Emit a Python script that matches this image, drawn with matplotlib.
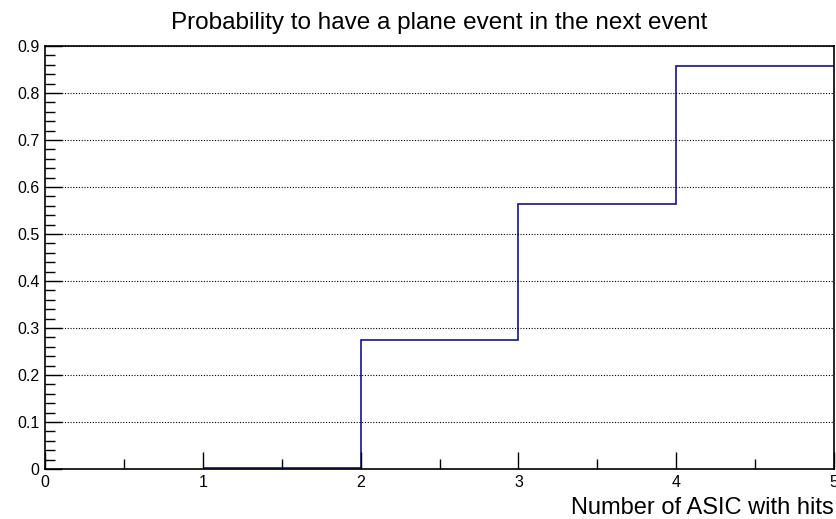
import numpy as np
import matplotlib.pyplot as plt
from matplotlib.ticker import MultipleLocator

plt.rcParams['font.family'] = ['Liberation Sans', 'DejaVu Sans']

bin_edges = [1, 2, 3, 4, 5]
probability = [0.002, 0.275, 0.563, 0.858]

fig = plt.figure(figsize=(8.37, 5.19), dpi=100)
ax = fig.add_axes([0.0538, 0.0963, 0.9427, 0.815])

ax.stairs(probability, bin_edges, color="#1010a0", linewidth=1.2, baseline=None)

ax.set_xlim(0, 5)
ax.set_ylim(0, 0.9)
ax.xaxis.set_major_locator(MultipleLocator(1))
ax.xaxis.set_minor_locator(MultipleLocator(0.5))
ax.yaxis.set_major_locator(MultipleLocator(0.1))
ax.yaxis.set_minor_locator(MultipleLocator(0.02))
ax.tick_params(which="both", direction="in", top=False, right=False, labelsize=11.5, width=1)
ax.tick_params(which="major", length=12, pad=4)
ax.tick_params(which="minor", length=7)
ax.yaxis.set_major_formatter(plt.FuncFormatter(lambda v, p: "0" if abs(v) < 1e-9 else f"{v:.1f}"))
ax.grid(axis="y", which="major", linestyle=(0, (1, 1.5)), color="black", linewidth=0.8)
for s in ax.spines.values():
    s.set_linewidth(1.2)

ax.set_title("Probability to have a plane event in the next event", fontsize=17.5, pad=12)
ax.set_xlabel("Number of ASIC with hits", fontsize=17, va="baseline")
ax.xaxis.set_label_coords(1.0, -0.106)
ax.xaxis.label.set_horizontalalignment("right")

plt.savefig("out.png", dpi=100)
